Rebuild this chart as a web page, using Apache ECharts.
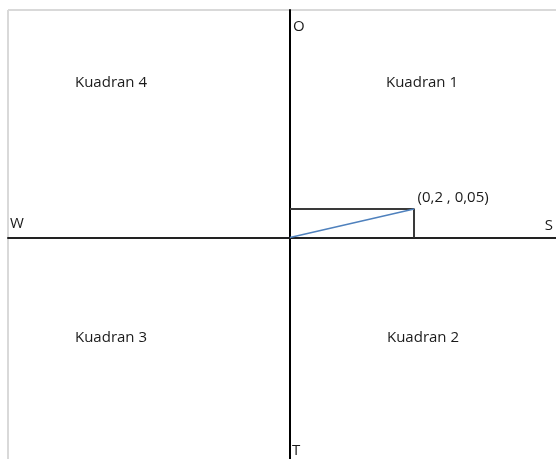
<!DOCTYPE html>
<html>
<head>
<meta charset="utf-8">
<script src="https://cdn.jsdelivr.net/npm/echarts@6/dist/echarts.min.js"></script>
<style>
html,body{margin:0;padding:0;background:#fff;}
#chart{width:556px;height:459px;}
</style>
</head>
<body>
<div id="chart"></div>
<script>
// Data
const vectorPoint = [0.2, 0.05];
const vectorLine = [[0, 0], vectorPoint];
const boxLine = [[0, 0.05], [0.2, 0.05], [0.2, 0]];
const quadrantLabels = ['Kuadran 1', 'Kuadran 2', 'Kuadran 3', 'Kuadran 4'];
const axisLetters = { top: 'O', bottom: 'T', left: 'W', right: 'S' };

const fmt = v => String(v).replace('.', ',');
const pointLabel = '(' + fmt(vectorPoint[0]) + ' , ' + fmt(vectorPoint[1]) + ')';

const FONT = '"Open Sans", "Noto Sans", sans-serif';
const TXT = '#1a1a1a';
const chart = echarts.init(document.getElementById('chart'), null, { renderer: 'canvas' });

function txt(text, x, y, align, vAlign) {
  return {
    type: 'text', x: x, y: y, silent: true,
    style: { text: text, fill: TXT, font: '15px ' + FONT, align: align, verticalAlign: vAlign }
  };
}
function frameLine(x1, y1, x2, y2) {
  return { type: 'line', silent: true, z: -1,
    shape: { x1: x1, y1: y1, x2: x2, y2: y2 },
    style: { stroke: '#d9d9d9', lineWidth: 2 } };
}

chart.setOption({
  backgroundColor: '#fff',
  animation: false,
  grid: { left: 8, top: 10, right: 0, bottom: 0, show: false },
  xAxis: {
    type: 'value', min: -0.4548, max: 0.4290,
    axisLine: { show: true, onZero: true, lineStyle: { color: '#222', width: 2 } },
    axisTick: { show: false }, axisLabel: { show: false }, splitLine: { show: false }
  },
  yAxis: {
    type: 'value', min: -0.3884, max: 0.3990,
    axisLine: { show: true, onZero: true, lineStyle: { color: '#000', width: 2 } },
    axisTick: { show: false }, axisLabel: { show: false }, splitLine: { show: false }
  },
  series: [
    {
      type: 'line', data: boxLine, symbol: 'none',
      lineStyle: { color: '#3a3a3a', width: 2 }, z: 2
    },
    {
      type: 'line', data: vectorLine, symbol: 'none',
      lineStyle: { color: '#4f81bd', width: 1.5 }, z: 3
    },
    {
      type: 'scatter', data: [vectorPoint], symbolSize: 1,
      itemStyle: { color: '#ffffff', opacity: 0.01 },
      label: { show: true, formatter: pointLabel, position: 'right', distance: 3, offset: [0, -11],
        color: TXT, opacity: 1, textBorderWidth: 0, fontSize: 15, fontFamily: FONT }, z: 4
    }
  ],
  graphic: [
    frameLine(8, 10, 556, 10),
    frameLine(8, 10, 8, 459),
    txt(quadrantLabels[3], 111, 83, 'center', 'middle'),
    txt(quadrantLabels[0], 422, 83, 'center', 'middle'),
    txt(quadrantLabels[2], 111, 338, 'center', 'middle'),
    txt(quadrantLabels[1], 423, 338, 'center', 'middle'),
    txt(axisLetters.top, 293, 27, 'left', 'middle'),
    txt(axisLetters.bottom, 292, 451, 'left', 'middle'),
    txt(axisLetters.left, 10, 224, 'left', 'middle'),
    txt(axisLetters.right, 553, 226, 'right', 'middle')
  ]
});
</script>
</body>
</html>
